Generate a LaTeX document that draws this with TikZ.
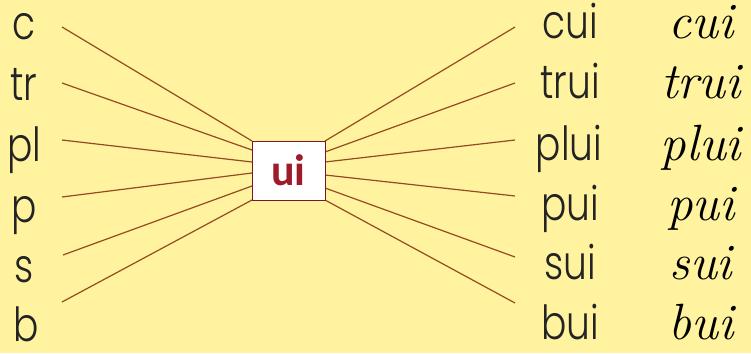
\documentclass[tikz,border=0pt]{standalone}
\usepackage{fontspec}
\newfontfamily\boxfont{Carlito}
\newfontfamily\thinfont{Poppins Light}[FakeStretch=0.8]
\definecolor{bgyellow}{RGB}{255,243,160}
\definecolor{linebrown}{RGB}{150,75,30}
\definecolor{uired}{RGB}{158,28,42}
\definecolor{inkgray}{RGB}{35,35,35}
\begin{document}
\begin{tikzpicture}[x=1pt,y=-1pt,
  syll/.style={anchor=base,inner sep=0pt,text=inkgray,font=\thinfont\fontsize{47}{47}\selectfont},
  word/.style={anchor=base,inner sep=0pt,text=inkgray,font=\thinfont\fontsize{47}{47}\selectfont},
  script/.style={anchor=base,inner sep=0pt,text=black,font=\itshape\fontsize{51}{51}\selectfont},
  link/.style={draw=linebrown,line width=1.2pt},
  uibox/.style={draw=uired!80!black,line width=0.8pt,fill=white,minimum width=73pt,minimum height=59pt,inner sep=0pt,
    text=uired,font=\boxfont\bfseries\fontsize{44}{44}\selectfont}]
\fill[bgyellow] (0,0) rectangle (751,353);
\useasboundingbox (0,0) rectangle (751,353);
% left syllables
\node[syll] (s1) at (24,40) {c};
\node[syll] (s2) at (24,100.5) {tr};
\node[syll] (s3) at (24,161) {pl};
\node[syll] (s4) at (24,222) {p};
\node[syll] (s5) at (24,282) {s};
\node[syll] (s6) at (26,341.5) {b};
% right words
\node[word] (w1) at (570,38) {cui};
\node[word] (w2) at (570,98.5) {trui};
\node[word] (w3) at (569,160) {plui};
\node[word] (w4) at (570,220) {pui};
\node[word] (w5) at (570,279) {sui};
\node[word] (w6) at (570,339) {bui};
% cursive words
\node[script] (c1) at (701,38) {cui};
\node[script] (c2) at (701,98.5) {trui};
\node[script] (c3) at (701,160) {plui};
\node[script] (c4) at (701,220) {pui};
\node[script] (c5) at (701,279) {sui};
\node[script] (c6) at (701,339) {bui};
% line ends
\coordinate (l1) at (62,27);
\coordinate (l2) at (62,83);
\coordinate (l3) at (62,140);
\coordinate (l4) at (62,197);
\coordinate (l5) at (63,255);
\coordinate (l6) at (62,302);
\coordinate (r1) at (515,27);
\coordinate (r2) at (515,83);
\coordinate (r3) at (515,140);
\coordinate (r4) at (515,196);
\coordinate (r5) at (515,257);
\coordinate (r6) at (515,303);
% box edge points
\coordinate (bl1) at (252,141);
\coordinate (bl2) at (252,150);
\coordinate (bl3) at (252,162);
\coordinate (bl4) at (252,173);
\coordinate (bl5) at (252,186);
\coordinate (bl6) at (252,200);
\coordinate (br1) at (325,141);
\coordinate (br2) at (325,152);
\coordinate (br3) at (325,162);
\coordinate (br4) at (325,175);
\coordinate (br5) at (325,188);
\coordinate (br6) at (325,200);
\foreach \i in {1,...,6}{
  \draw[link] (l\i) -- (bl\i);
  \draw[link] (br\i) -- (r\i);
}
\node[uibox] (ui) at (288.5,170.5) {ui};
\end{tikzpicture}
\end{document}
